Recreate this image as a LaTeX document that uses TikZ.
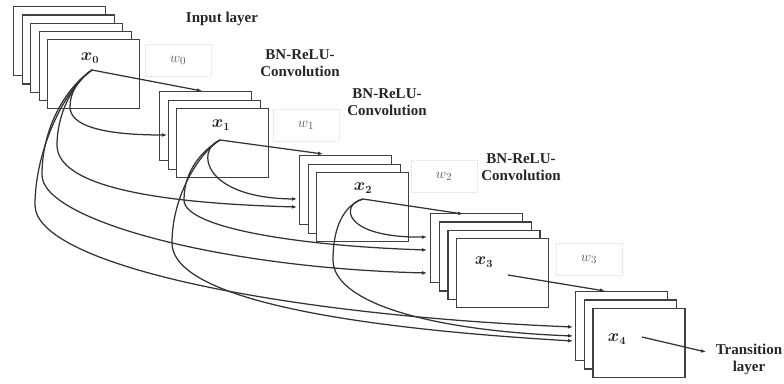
\documentclass[tikz,border=0pt]{standalone}
\usepackage{fontspec}
\setmainfont{Liberation Serif}
\usetikzlibrary{arrows.meta}

\tikzset{
  sheet/.style={draw=black!75,line width=1.4pt,fill=white,anchor=north west,
    minimum width=92pt,minimum height=69pt,inner sep=0pt},
  link/.style={draw=black!80,line width=1.25pt,-{Latex[length=5pt,width=3.8pt]}},
  txt/.style={font=\fontsize{15}{17}\selectfont\bfseries,align=center,text=black!85},
  wt/.style={text=black!65,font=\fontsize{15}{17}\selectfont,
    draw=black!12,densely dotted,line width=.6pt,minimum width=66pt,minimum height=32pt},
  xl/.style={font=\fontsize{16}{18}\selectfont\boldmath,text=black!85}
}

\begin{document}
\begin{tikzpicture}[x=1pt,y=-1pt]
\useasboundingbox (0,0) rectangle (784,383);

% labels
\node[txt] (inl) at (222,19) {Input layer};
\node[txt] (bn1) at (300,63) {BN-ReLU-\\Convolution};
\node[txt] (bn2) at (387,102) {BN-ReLU-\\Convolution};
\node[txt] (bn3) at (521,167) {BN-ReLU-\\Convolution};
\node[wt] (w0) at (178,60) {$w_0$};
\node[wt] (w1) at (306,125) {$w_1$};
\node[wt] (w2) at (444,176) {$w_2$};
\node[wt] (w3) at (589,259) {$w_3$};
\node[txt] (trans) at (749,359) {Transition\\layer};

% stacks of feature maps
\foreach \i in {1,...,5}
  \node[sheet] (s0-\i) at ({13+8.5*(\i-1)},{6+8.25*(\i-1)}) {};
\foreach \i in {1,...,3}
  \node[sheet] (s1-\i) at ({159+8.5*(\i-1)},{91+8.5*(\i-1)}) {};
\foreach \i in {1,...,3}
  \node[sheet] (s2-\i) at ({299+8.5*(\i-1)},{155+8.5*(\i-1)}) {};
\foreach \i in {1,...,4}
  \node[sheet] (s3-\i) at ({430+8.67*(\i-1)},{213+8.33*(\i-1)}) {};
\foreach \i in {1,...,3}
  \node[sheet] (s4-\i) at ({575+8.7*(\i-1)},{291+8.4*(\i-1)}) {};

\node[xl] (x0) at (90,58) {$x_0$};
\node[xl] (x1) at (221,125) {$x_1$};
\node[xl] (x2) at (363,188) {$x_2$};
\node[xl] (x3) at (484,262) {$x_3$};
\node[xl] (x4) at (617,339) {$x_4$};

% start and end points
\coordinate (c0) at (92,70);
\coordinate (c1) at (220,140);
\coordinate (c2) at (363,199);
\coordinate (c3) at (508,275);
\coordinate (c4) at (642,337);
\coordinate (e01t) at (202,91);
\coordinate (e01) at (167,135);
\coordinate (e12t) at (323,154);
\coordinate (e12) at (297,199);
\coordinate (e02) at (297,207);
\coordinate (e23t) at (463,214);
\coordinate (e23) at (427,237);
\coordinate (e13) at (427,250);
\coordinate (e03) at (427,273);
\coordinate (e34t) at (605,291);
\coordinate (e04) at (573,327);
\coordinate (e24) at (573,336);
\coordinate (e14) at (573,341);
\coordinate (e4t) at (706,352);

% dense connections
\draw[link] (c0) -- (e01t);
\draw[link] (c0) .. controls (78,80) and (70,92) .. (70,107) .. controls (70,125) and (100,135) .. (e01);
\draw[link] (c0) .. controls (72,84) and (57,115) .. (57,145) .. controls (57,185) and (150,203) .. (e02);
\draw[link] (c0) .. controls (68,86) and (42,125) .. (42,175) .. controls (42,220) and (220,268) .. (e03);
\draw[link] (c0) .. controls (65,88) and (35,150) .. (35,205) .. controls (35,265) and (280,315) .. (e04);

\draw[link] (c1) -- (e12t);
\draw[link] (c1) .. controls (195,150) and (203,198) .. (e12);
\draw[link] (c1) .. controls (203,150) and (184,170) .. (184,200) .. controls (184,228) and (300,246) .. (e13);
\draw[link] (c1) .. controls (200,152) and (172,195) .. (172,243) .. controls (172,290) and (300,325) .. (e14);

\draw[link] (c2) -- (e23t);
\draw[link] (c2) .. controls (340,204) and (342,238) .. (e23);
\draw[link] (c2) .. controls (345,205) and (333,225) .. (333,260) .. controls (333,300) and (420,330) .. (e24);

\draw[link] (c3) -- (e34t);
\draw[link] (c4) -- (e4t);

\end{tikzpicture}
\end{document}
